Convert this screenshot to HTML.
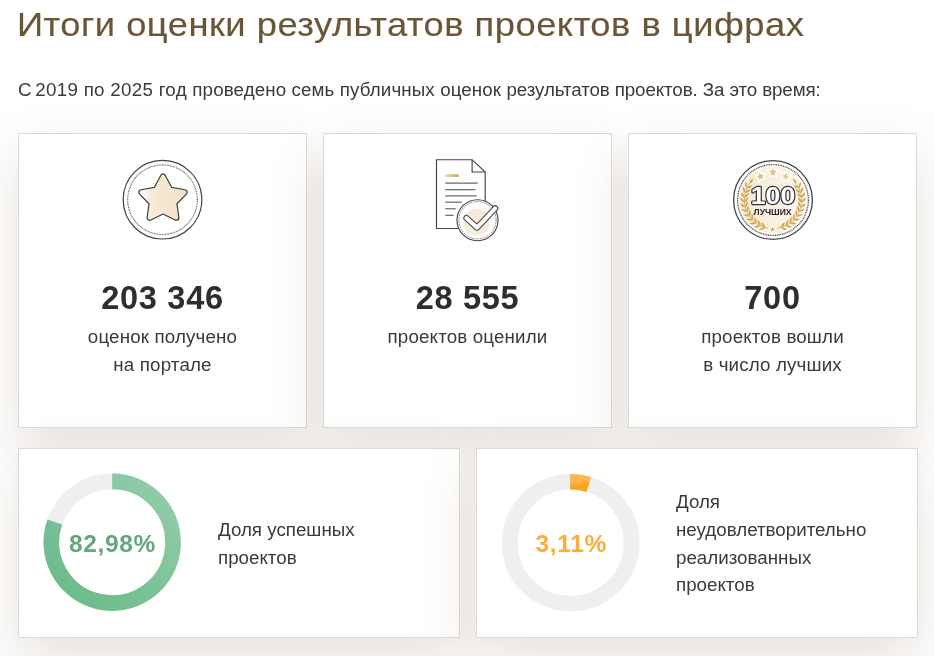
<!DOCTYPE html>
<html lang="ru">
<head>
<meta charset="utf-8">
<title>Итоги оценки результатов проектов в цифрах</title>
<style>
html,body{margin:0;padding:0;}
body{width:934px;height:656px;overflow:hidden;background:#fff;position:relative;font-family:"Liberation Sans",sans-serif;color:#333;}
.abs{position:absolute;white-space:nowrap;}
h1{position:absolute;margin:0;left:17.3px;top:3px;font-weight:normal;font-size:33px;line-height:44px;letter-spacing:0.46px;color:#6a5536;white-space:nowrap;transform:scaleX(1.1);transform-origin:0 0;-webkit-text-stroke:0.15px #6a5536;}
.lead{left:18px;top:76px;font-size:18.75px;line-height:28px;letter-spacing:0.05px;color:#3a3a3a;}
.card{position:absolute;box-sizing:border-box;background:#fff;border:1px solid #dbdad7;box-shadow:0 22px 50px rgba(120,92,62,0.18);}
.num{position:absolute;left:0;right:0;text-align:center;font-weight:bold;font-size:32.5px;line-height:40px;letter-spacing:0.7px;color:#2e2e2e;top:144px;}
.txt{position:absolute;left:0;right:0;text-align:center;font-size:18.75px;line-height:27.8px;letter-spacing:0.15px;color:#3a3a3a;top:189px;}
.lbl{position:absolute;font-size:18.75px;line-height:28px;color:#3a3a3a;}
.pct{position:absolute;text-align:center;font-weight:bold;font-size:24.5px;line-height:30px;letter-spacing:0.65px;}
svg{position:absolute;left:0;top:0;overflow:visible;}
</style>
</head>
<body>
<div id="wrap" style="position:absolute;left:0;top:0;width:934px;height:656px;will-change:transform;">
<div class="card" style="left:18px;top:133px;width:289px;height:295px;">
  <div class="num">203 346</div>
  <div class="txt">оценок получено<br>на портале</div>
</div>
<div class="card" style="left:323px;top:133px;width:289px;height:295px;">
  <div class="num">28 555</div>
  <div class="txt">проектов оценили</div>
</div>
<div class="card" style="left:628px;top:133px;width:289px;height:295px;">
  <div class="num">700</div>
  <div class="txt">проектов вошли<br>в число лучших</div>
</div>
<div class="card" style="left:18px;top:448px;width:442px;height:190px;"></div>
<div class="card" style="left:476px;top:448px;width:442px;height:190px;"></div>

<h1>Итоги оценки результатов проектов в цифрах</h1>
<div class="abs lead"><span style="letter-spacing:-0.7px">С </span><span style="letter-spacing:0.28px">2019 по 2025 год </span><span style="letter-spacing:0.11px">проведено семь публичных оценок </span><span style="letter-spacing:-0.1px">результатов проектов. За это время:</span></div>

<div class="lbl" style="left:218px;top:515px;transform:translateY(0.6px);">Доля успешных<br>проектов</div>
<div class="lbl" style="left:676px;top:487px;transform:translateY(0.55px);">Доля<br>неудовлетворительно<br>реализованных<br><span style="position:relative;top:-1px;">проектов</span></div>

<div class="pct" style="left:42.5px;width:140px;top:529.2px;color:#62a87c;">82,98%</div>
<div class="pct" style="left:501.2px;width:140px;top:529.2px;color:#f9ae3c;">3,11%</div>

<svg width="934" height="656" viewBox="0 0 934 656">
  <defs>
    <linearGradient id="gg" x1="1" y1="0" x2="0" y2="1">
      <stop offset="0" stop-color="#93cdaa"/><stop offset="1" stop-color="#67b988"/>
    </linearGradient>
    <linearGradient id="og" x1="0" y1="0" x2="1" y2="1">
      <stop offset="0" stop-color="#fcb850"/><stop offset="1" stop-color="#f9a420"/>
    </linearGradient>
    <linearGradient id="sg" x1="0" y1="0" x2="1" y2="0">
      <stop offset="0" stop-color="#ffffff"/><stop offset="0.2" stop-color="#f7ecd9"/><stop offset="1" stop-color="#f1e1c6"/>
    </linearGradient>
    <linearGradient id="gold" x1="0" y1="0" x2="1" y2="0"><stop offset="0" stop-color="#f0dcae"/><stop offset="1" stop-color="#d1a74c"/></linearGradient>
    <linearGradient id="disc" x1="0" y1="0" x2="1" y2="0"><stop offset="0" stop-color="#f6e9d6"/><stop offset="1" stop-color="#fbf5ea"/></linearGradient>
    <linearGradient id="leafg" gradientUnits="userSpaceOnUse" x1="740" y1="230" x2="806" y2="170"><stop offset="0" stop-color="#cfa550"/><stop offset="0.5" stop-color="#dcbc74"/><stop offset="1" stop-color="#e9d4a0"/></linearGradient>
  </defs>
  <!-- star icon -->
  <circle cx="162.5" cy="199.7" r="39.3" fill="#fff" stroke="#444" stroke-width="1.2"/>
  <circle cx="162.5" cy="199.7" r="34.8" fill="none" stroke="#444" stroke-width="1.1" stroke-dasharray="0.8 0.8"/>
  <polygon points="163.00,176.70 169.94,189.75 184.49,192.32 174.22,202.95 176.28,217.58 163.00,211.10 149.72,217.58 151.78,202.95 141.51,192.32 156.06,189.75" fill="#3f3f3f" stroke="#3f3f3f" stroke-width="6.4" stroke-linejoin="round"/>
  <polygon points="163.00,176.70 169.94,189.75 184.49,192.32 174.22,202.95 176.28,217.58 163.00,211.10 149.72,217.58 151.78,202.95 141.51,192.32 156.06,189.75" fill="url(#sg)" stroke="url(#sg)" stroke-width="4" stroke-linejoin="round"/>
  <!-- document icon -->
  <path d="M436.5 159.7 H472.1 L485.2 172 V228.5 H436.5 Z" fill="#fff" stroke="#444" stroke-width="1.15" stroke-linejoin="miter"/>
  <path d="M472.1 159.7 V172 H485.2" fill="none" stroke="#444" stroke-width="1.15"/>
  <rect x="445.3" y="174.2" width="13.4" height="2.8" fill="url(#gold)"/>
  <line x1="445.3" y1="183.1" x2="477.7" y2="183.1" stroke="#666" stroke-width="1.2"/>
  <line x1="445.3" y1="189.7" x2="475.5" y2="189.7" stroke="#666" stroke-width="1.2"/>
  <line x1="445.3" y1="195.9" x2="476.6" y2="195.9" stroke="#666" stroke-width="1.2"/>
  <line x1="445.3" y1="202.2" x2="461.7" y2="202.2" stroke="#666" stroke-width="1.2"/>
  <line x1="445.3" y1="208.8" x2="455.8" y2="208.8" stroke="#666" stroke-width="1.2"/>
  <line x1="445.3" y1="215.3" x2="453.7" y2="215.3" stroke="#666" stroke-width="1.2"/>
  <circle cx="477.5" cy="220.2" r="20.5" fill="#fff" stroke="#444" stroke-width="1.1"/>
  <circle cx="477.5" cy="220.2" r="18.6" fill="none" stroke="#666" stroke-width="0.8" stroke-dasharray="1.6 0.9"/>
  <circle cx="476.5" cy="222.2" r="13.2" fill="#f6ebda"/>
  <polyline points="466.4,218 477.1,227.6 495.2,208.4" fill="none" stroke="#444" stroke-width="6.2" stroke-linecap="round" stroke-linejoin="round"/>
  <polyline points="466.4,218 477.1,227.6 495.2,208.4" fill="none" stroke="#fff" stroke-width="4.1" stroke-linecap="round" stroke-linejoin="round"/>
  <!-- medal icon -->
  <circle cx="773.0" cy="200.0" r="39.4" fill="#fff" stroke="#444" stroke-width="1.3"/>
  <circle cx="773.0" cy="200.0" r="33.6" fill="url(#disc)"/>
  <circle cx="773.0" cy="200.0" r="35.4" fill="none" stroke="#4a4a4a" stroke-width="1.4" stroke-dasharray="1 0.75"/>
  <g fill="url(#leafg)"><path d="M0 0 Q2.97 -2.00 6.6 0 Q2.97 2.00 0 0Z" transform="translate(765.12 227.49) rotate(-126.0)"/><path d="M0 0 Q2.97 -2.00 6.6 0 Q2.97 2.00 0 0Z" transform="translate(765.12 227.49) rotate(-202.0)"/><path d="M0 0 Q2.97 -2.00 6.6 0 Q2.97 2.00 0 0Z" transform="translate(760.54 225.75) rotate(-116.2)"/><path d="M0 0 Q2.97 -2.00 6.6 0 Q2.97 2.00 0 0Z" transform="translate(760.54 225.75) rotate(-192.2)"/><path d="M0 0 Q2.97 -2.00 6.6 0 Q2.97 2.00 0 0Z" transform="translate(756.34 223.24) rotate(-106.4)"/><path d="M0 0 Q2.97 -2.00 6.6 0 Q2.97 2.00 0 0Z" transform="translate(756.34 223.24) rotate(-182.4)"/><path d="M0 0 Q2.97 -2.00 6.6 0 Q2.97 2.00 0 0Z" transform="translate(752.62 220.06) rotate(-96.5)"/><path d="M0 0 Q2.97 -2.00 6.6 0 Q2.97 2.00 0 0Z" transform="translate(752.62 220.06) rotate(-172.5)"/><path d="M0 0 Q2.97 -2.00 6.6 0 Q2.97 2.00 0 0Z" transform="translate(749.49 216.29) rotate(-86.7)"/><path d="M0 0 Q2.97 -2.00 6.6 0 Q2.97 2.00 0 0Z" transform="translate(749.49 216.29) rotate(-162.7)"/><path d="M0 0 Q2.97 -2.00 6.6 0 Q2.97 2.00 0 0Z" transform="translate(747.06 212.05) rotate(-76.9)"/><path d="M0 0 Q2.97 -2.00 6.6 0 Q2.97 2.00 0 0Z" transform="translate(747.06 212.05) rotate(-152.9)"/><path d="M0 0 Q2.97 -2.00 6.6 0 Q2.97 2.00 0 0Z" transform="translate(745.39 207.45) rotate(-67.1)"/><path d="M0 0 Q2.97 -2.00 6.6 0 Q2.97 2.00 0 0Z" transform="translate(745.39 207.45) rotate(-143.1)"/><path d="M0 0 Q2.97 -2.00 6.6 0 Q2.97 2.00 0 0Z" transform="translate(744.52 202.63) rotate(-57.3)"/><path d="M0 0 Q2.97 -2.00 6.6 0 Q2.97 2.00 0 0Z" transform="translate(744.52 202.63) rotate(-133.3)"/><path d="M0 0 Q2.97 -2.00 6.6 0 Q2.97 2.00 0 0Z" transform="translate(744.49 197.73) rotate(-47.5)"/><path d="M0 0 Q2.97 -2.00 6.6 0 Q2.97 2.00 0 0Z" transform="translate(744.49 197.73) rotate(-123.5)"/><path d="M0 0 Q2.97 -2.00 6.6 0 Q2.97 2.00 0 0Z" transform="translate(745.29 192.91) rotate(-37.6)"/><path d="M0 0 Q2.97 -2.00 6.6 0 Q2.97 2.00 0 0Z" transform="translate(745.29 192.91) rotate(-113.6)"/><path d="M0 0 Q2.97 -2.00 6.6 0 Q2.97 2.00 0 0Z" transform="translate(746.91 188.28) rotate(-27.8)"/><path d="M0 0 Q2.97 -2.00 6.6 0 Q2.97 2.00 0 0Z" transform="translate(746.91 188.28) rotate(-103.8)"/><path d="M0 0 Q2.97 -2.00 6.6 0 Q2.97 2.00 0 0Z" transform="translate(749.29 184.01) rotate(-56.0)"/><path d="M0 0 Q2.97 -2.00 6.6 0 Q2.97 2.00 0 0Z" transform="translate(780.88 227.49) scale(-1 1) rotate(-126.0)"/><path d="M0 0 Q2.97 -2.00 6.6 0 Q2.97 2.00 0 0Z" transform="translate(780.88 227.49) scale(-1 1) rotate(-202.0)"/><path d="M0 0 Q2.97 -2.00 6.6 0 Q2.97 2.00 0 0Z" transform="translate(785.46 225.75) scale(-1 1) rotate(-116.2)"/><path d="M0 0 Q2.97 -2.00 6.6 0 Q2.97 2.00 0 0Z" transform="translate(785.46 225.75) scale(-1 1) rotate(-192.2)"/><path d="M0 0 Q2.97 -2.00 6.6 0 Q2.97 2.00 0 0Z" transform="translate(789.66 223.24) scale(-1 1) rotate(-106.4)"/><path d="M0 0 Q2.97 -2.00 6.6 0 Q2.97 2.00 0 0Z" transform="translate(789.66 223.24) scale(-1 1) rotate(-182.4)"/><path d="M0 0 Q2.97 -2.00 6.6 0 Q2.97 2.00 0 0Z" transform="translate(793.38 220.06) scale(-1 1) rotate(-96.5)"/><path d="M0 0 Q2.97 -2.00 6.6 0 Q2.97 2.00 0 0Z" transform="translate(793.38 220.06) scale(-1 1) rotate(-172.5)"/><path d="M0 0 Q2.97 -2.00 6.6 0 Q2.97 2.00 0 0Z" transform="translate(796.51 216.29) scale(-1 1) rotate(-86.7)"/><path d="M0 0 Q2.97 -2.00 6.6 0 Q2.97 2.00 0 0Z" transform="translate(796.51 216.29) scale(-1 1) rotate(-162.7)"/><path d="M0 0 Q2.97 -2.00 6.6 0 Q2.97 2.00 0 0Z" transform="translate(798.94 212.05) scale(-1 1) rotate(-76.9)"/><path d="M0 0 Q2.97 -2.00 6.6 0 Q2.97 2.00 0 0Z" transform="translate(798.94 212.05) scale(-1 1) rotate(-152.9)"/><path d="M0 0 Q2.97 -2.00 6.6 0 Q2.97 2.00 0 0Z" transform="translate(800.61 207.45) scale(-1 1) rotate(-67.1)"/><path d="M0 0 Q2.97 -2.00 6.6 0 Q2.97 2.00 0 0Z" transform="translate(800.61 207.45) scale(-1 1) rotate(-143.1)"/><path d="M0 0 Q2.97 -2.00 6.6 0 Q2.97 2.00 0 0Z" transform="translate(801.48 202.63) scale(-1 1) rotate(-57.3)"/><path d="M0 0 Q2.97 -2.00 6.6 0 Q2.97 2.00 0 0Z" transform="translate(801.48 202.63) scale(-1 1) rotate(-133.3)"/><path d="M0 0 Q2.97 -2.00 6.6 0 Q2.97 2.00 0 0Z" transform="translate(801.51 197.73) scale(-1 1) rotate(-47.5)"/><path d="M0 0 Q2.97 -2.00 6.6 0 Q2.97 2.00 0 0Z" transform="translate(801.51 197.73) scale(-1 1) rotate(-123.5)"/><path d="M0 0 Q2.97 -2.00 6.6 0 Q2.97 2.00 0 0Z" transform="translate(800.71 192.91) scale(-1 1) rotate(-37.6)"/><path d="M0 0 Q2.97 -2.00 6.6 0 Q2.97 2.00 0 0Z" transform="translate(800.71 192.91) scale(-1 1) rotate(-113.6)"/><path d="M0 0 Q2.97 -2.00 6.6 0 Q2.97 2.00 0 0Z" transform="translate(799.09 188.28) scale(-1 1) rotate(-27.8)"/><path d="M0 0 Q2.97 -2.00 6.6 0 Q2.97 2.00 0 0Z" transform="translate(799.09 188.28) scale(-1 1) rotate(-103.8)"/><path d="M0 0 Q2.97 -2.00 6.6 0 Q2.97 2.00 0 0Z" transform="translate(796.71 184.01) scale(-1 1) rotate(-56.0)"/></g>
  <path d="M770.0 228.4 L766.4 227.8 L762.9 226.7 L759.5 225.2 L756.4 223.3 L753.5 221.0 L751.0 218.3 L748.8 215.3 L747.1 212.1 L745.7 208.7 L744.9 205.1 L744.4 201.4 L744.5 197.8 L745.0 194.1 L746.0 190.6 L747.4 187.2 L749.3 184.0" fill="none" stroke="#cfa754" stroke-width="0.8"/>
  <path d="M776.0 228.4 L779.6 227.8 L783.1 226.7 L786.5 225.2 L789.6 223.3 L792.5 221.0 L795.0 218.3 L797.2 215.3 L798.9 212.1 L800.3 208.7 L801.1 205.1 L801.6 201.4 L801.5 197.8 L801.0 194.1 L800.0 190.6 L798.6 187.2 L796.7 184.0" fill="none" stroke="#cfa754" stroke-width="0.8"/>
  <polygon points="758.95,170.43 761.59,173.49 765.57,172.84 763.48,176.30 765.33,179.89 761.39,178.97 758.55,181.84 758.21,177.81 754.60,175.99 758.33,174.43" fill="#fffefb" stroke="#fffefb" stroke-width="1.2" stroke-linejoin="round"/>
  <polygon points="759.51,172.59 761.22,174.69 763.88,174.19 762.42,176.46 763.72,178.84 761.10,178.15 759.25,180.12 759.09,177.42 756.64,176.26 759.16,175.28" fill="url(#leafg)"/>
  <polygon points="772.90,165.40 774.76,169.44 779.18,169.96 775.91,172.98 776.78,177.34 772.90,175.17 769.02,177.34 769.89,172.98 766.62,169.96 771.04,169.44" fill="#fffefb" stroke="#fffefb" stroke-width="1.2" stroke-linejoin="round"/>
  <polygon points="772.90,167.84 774.08,170.58 777.04,170.85 774.81,172.82 775.46,175.72 772.90,174.20 770.34,175.72 770.99,172.82 768.76,170.85 771.72,170.58" fill="url(#leafg)"/>
  <polygon points="787.25,170.43 787.87,174.43 791.60,175.99 787.99,177.81 787.65,181.84 784.81,178.97 780.87,179.89 782.72,176.30 780.63,172.84 784.61,173.49" fill="#fffefb" stroke="#fffefb" stroke-width="1.2" stroke-linejoin="round"/>
  <polygon points="786.69,172.59 787.04,175.28 789.56,176.26 787.11,177.42 786.95,180.12 785.10,178.15 782.48,178.84 783.78,176.46 782.32,174.19 784.98,174.69" fill="url(#leafg)"/>
  <polygon points="772.40,225.00 773.58,227.57 776.39,227.90 774.32,229.82 774.87,232.60 772.40,231.22 769.93,232.60 770.48,229.82 768.41,227.90 771.22,227.57" fill="#fffefb" stroke="#fffefb" stroke-width="1.2" stroke-linejoin="round"/>
  <polygon points="772.40,226.63 773.15,228.37 775.04,228.54 773.61,229.79 774.03,231.64 772.40,230.68 770.77,231.64 771.19,229.79 769.76,228.54 771.65,228.37" fill="url(#leafg)"/>
  <g transform="translate(773.0 0) scale(1.1 1)"><text x="0" y="203.6" text-anchor="middle" font-family="Liberation Sans, sans-serif" font-weight="bold" font-size="24.2" fill="#fff" stroke="#333" stroke-width="2.3" stroke-linejoin="round" paint-order="stroke">100</text></g>
  <text x="772.6" y="214.7" text-anchor="middle" font-family="Liberation Sans, sans-serif" font-weight="bold" font-size="8.6" fill="#262626">ЛУЧШИХ</text>
  <!-- donuts -->
  <circle cx="112.2" cy="542.2" r="60.85" fill="none" stroke="#efefef" stroke-width="15.7"/>
  <path d="M112.20 481.35 A60.85 60.85 0 1 1 54.80 521.99" fill="none" stroke="url(#gg)" stroke-width="15.7"/>
  <circle cx="570.7" cy="542.7" r="60.95" fill="none" stroke="#efefef" stroke-width="15.7"/>
  <path d="M570.08 481.75 A60.95 60.95 0 0 1 588.83 484.60" fill="none" stroke="url(#og)" stroke-width="15.7"/>
</svg>
</div>
</body>
</html>
